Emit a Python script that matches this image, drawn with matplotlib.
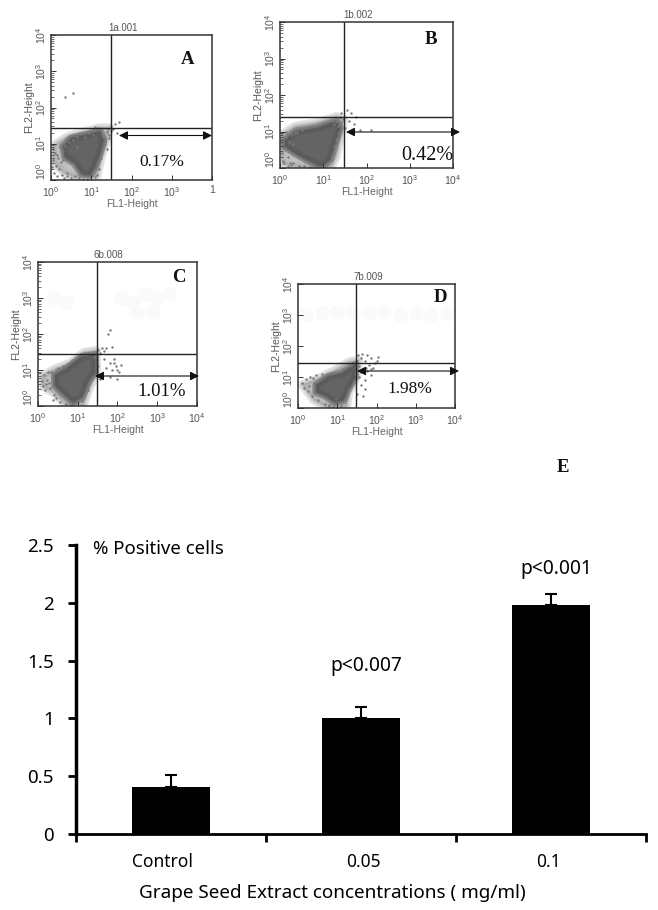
#flow cytometry panels A-D + bar chart E
import numpy as np
import matplotlib
matplotlib.use('Agg')
import matplotlib.pyplot as plt
from matplotlib.patches import FancyArrowPatch
from matplotlib.transforms import ScaledTranslation

W = 658
H = 910

#**************************data (log10 decades)***********
#dense part of each cloud = outline, lighter part around it = halo
a_core_x = [.31,.51,.88,1.21,1.30,1.21,1.09,.97,.76,.6,.35]
a_core_y = [.92,1.15,1.24,1.33,1.10,.73,.37,.14,.18,.46,.64]
a_halo_x = [.05,.4,.85,1.2,1.45,1.4,1.25,1.15,.6,.3,.05]
a_halo_y = [.95,1.2,1.35,1.45,1.45,1.1,.6,.1,.05,.2,.5]
a_dot_x = [.05,.08,.1,.12,.15,.18,.2,.22,.25,.28,.03,.06,.14,.3,.32,.36,.4,.45,.5,.55,.6,.65,.7,.8,.9,1.0,1.1,1.2,1.25,1.3,1.35,1.38,1.42,1.45,1.48,1.5,1.55,1.6,1.65,1.7,1.3,1.35,1.4,1.45,.25,.3,.4,.55,1.15,1.05,.95,.35,1.1,.65,.85]
a_dot_y = [.55,.2,.75,.4,.1,.62,.3,.9,.5,.15,.35,.85,.68,.8,.05,.95,.12,1.05,.06,1.1,.1,1.18,.05,.03,.02,.1,.08,.3,.6,1.22,1.1,1.32,1.4,1.25,1.5,1.35,1.42,1.55,1.3,1.6,.9,1.0,.85,1.15,1.0,.55,.2,2.4,.15,1.25,1.3,2.3,1.45,.9,1.2]

b_core_x = [.12,.38,.85,1.31,1.38,1.27,1.15,.96,.62,.35,.12]
b_core_y = [.77,1.0,1.09,1.27,1.09,.68,.23,.05,.23,.41,.59]
b_halo_x = [.0,.35,.85,1.3,1.48,1.42,1.3,1.2,.5,.05]
b_halo_y = [.9,1.15,1.25,1.42,1.35,.9,.3,.02,.02,.1]
b_dot_x = [.04,.08,.1,.12,.15,.18,.2,.05,.25,.28,.3,.35,.4,.45,.5,.55,.6,.7,.8,.9,1.0,1.1,1.2,1.25,1.3,1.33,1.38,1.4,1.42,1.45,1.5,1.55,1.6,1.65,1.7,1.75,1.85,2.1,1.3,1.25,1.35,1.2,.15,.22,.3,.08,.18]
b_dot_y = [.4,.7,.15,.55,.85,.3,.72,.95,.08,.9,.15,.95,1.0,.05,1.05,.06,1.1,.04,.03,.02,.05,.1,.3,.6,1.3,1.15,1.4,1.25,1.5,1.35,1.1,1.6,1.3,1.5,1.2,1.4,1.05,1.05,.8,1.2,.95,1.28,.98,.15,.65,.2,.05]

c_core_x = [.43,.73,1.1,1.43,1.43,1.27,1.1,.89,.64,.43]
c_core_y = [.85,1.04,1.36,1.41,.94,.71,.25,.11,.34,.57]
c_halo_x = [.1,.45,.8,1.15,1.48,1.48,1.3,1.15,.7,.4,.1]
c_halo_y = [.85,1.05,1.2,1.5,1.55,.9,.5,.02,.03,.35,.55]
c_dot_x = [.1,.15,.2,.25,.3,.35,.4,.45,.12,.18,.22,.28,.32,.38,.45,.5,.55,.62,.7,.8,.88,.98,1.1,1.25,1.4,1.42,1.45,1.5,1.55,1.6,1.65,1.7,1.75,1.8,1.85,1.9,1.95,2.0,2.05,2.1,1.6,1.7,1.8,1.5,1.55,1.65,1.8,2.0,1.85,1.9]
c_dot_y = [.7,.85,.6,.95,.5,.8,.3,1.0,.55,.45,.72,.65,.95,.18,.22,1.05,.1,1.12,.05,.03,.02,.1,.15,.45,1.35,1.5,1.42,1.55,1.48,1.6,1.52,1.62,2.0,2.1,1.65,1.3,1.1,1.0,.95,1.15,.9,1.05,1.2,1.1,.75,1.3,.8,.75,1.0,1.2]

d_core_x = [.47,.77,1.11,1.45,1.45,1.28,1.15,.94,.68,.47]
d_core_y = [.73,1.0,1.11,1.38,1.0,.62,.25,.19,.41,.52]
d_halo_x = [.1,.5,.9,1.3,1.55,1.5,1.3,1.25,.7,.4]
d_halo_y = [.75,.95,1.2,1.5,1.55,1.0,.5,.03,.03,.25]
d_dot_x = [.1,.15,.2,.25,.3,.35,.4,.45,.28,.38,.5,.6,.7,.8,.9,1.0,1.1,1.2,1.3,.78,.88,.98,1.45,1.5,1.55,1.6,1.65,1.7,1.75,1.8,1.85,1.9,1.95,2.0,2.05,1.55,1.6,1.7,1.75,1.85,1.5,1.6,1.7,1.85,1.52,1.62,1.72,1.65]
d_dot_y = [.8,.65,.95,.55,1.0,.4,.82,1.05,.72,.98,.25,1.1,.12,.05,.03,.02,.08,.25,.6,.1,.15,.28,1.1,1.5,1.35,1.6,1.25,1.5,1.7,1.4,1.6,1.3,1.45,1.5,1.65,1.0,1.15,.9,1.2,1.05,.45,.75,.6,1.25,1.7,1.75,1.3,.4]

#faint print-through smudges seen behind C and D
c_smudge_x = [.4,.7,2.1,2.4,2.7,3.0,3.3,2.5,2.9]
c_smudge_y = [3.0,2.9,3.0,2.9,3.1,3.0,3.1,2.6,2.6]
d_smudge_x = [.2,.6,1.0,1.4,1.8,2.2,2.6,3.0,3.4,3.8]
d_smudge_y = [3.0,3.05,3.1,3.1,3.05,3.1,3.0,3.05,3.0,3.05]

gate_x = [1.48,1.48,1.48,1.48]
gate_y = [1.43,1.40,1.44,1.45]
decades = [0,1,2,3,4]

categories = ['Control','0.05','0.1']
bar_values = [0.41,1.0,1.98]
bar_errors = [0.1,0.1,0.1]
p_labels = ['','p<0.007','p<0.001']
p_heights = [0,1.45,2.29]
y_ticks = [0,0.5,1,1.5,2,2.5]
y_labels = ['0','0.5','1','1.5','2','2.5']

#**************************helpers*****************************************
fig = plt.figure(figsize=(W/100,H/100),dpi=100)

def fx(x):
    return x/W
def fy(y):
    return 1-y/H

def add_box(left,top,right,bottom):
    return fig.add_axes([fx(left),fy(bottom),(right-left)/W,(bottom-top)/H])

def ftext(x,y,s,**kw):
    fig.text(fx(x),fy(y),s,ha='center',va='center',**kw)

def panel(box,core_x,core_y,halo_x,halo_y,dot_x,dot_y,gx,gy,name,name_x,letter,letter_pos,pct,pct_pos,pct_size,arrow,xlast=None,smudge=None):
    ax = add_box(*box)
    if smudge is not None:
        ax.scatter(10**np.array(smudge[0]),10**np.array(smudge[1]),s=110,color='#fafafa',linewidths=0)
    #stacked strokes so the cloud edges fade out
    hx = 10**np.array(halo_x)
    hy = 10**np.array(halo_y)
    cx = 10**np.array(core_x)
    cy = 10**np.array(core_y)
    for lw in [6,3,0.5]:
        ax.fill(hx,hy,color='#a0a0a0',lw=lw,alpha=0.3,joinstyle='round')
    for lw in [6,3,0.5]:
        ax.fill(cx,cy,color='#585858',lw=lw,alpha=0.5,joinstyle='round')
    ax.scatter(10**np.array(dot_x),10**np.array(dot_y),s=3,color='#7a7a7a',linewidths=0)
    ax.axvline(10**gx,color='#222222',lw=1)
    ax.axhline(10**gy,color='#222222',lw=1)
    ax.set_xscale('log')
    ax.set_yscale('log')
    ax.set_xlim(1,10**4)
    ax.set_ylim(1,10**4)
    ticks = [10**d for d in decades]
    tlabels = ['$\\mathregular{10^{%d}}$' % d for d in decades]
    ax.set_xticks(ticks)
    ax.set_yticks(ticks)
    ylabs = ax.set_yticklabels(tlabels,rotation=90,va='center',color='#555555',fontsize=7.5)
    ylabs[0].set_va('bottom')
    if xlast is not None:
        tlabels = tlabels[:-1] + [xlast]
    ax.set_xticklabels(tlabels,color='#555555',fontsize=7.5)
    ax.tick_params(which='major',direction='in',length=3.5,width=0.7,color='#333333')
    ax.tick_params(axis='x',which='major',pad=3.5)
    ax.tick_params(axis='y',which='major',pad=2)
    ax.tick_params(which='minor',direction='in',length=2,width=0.5,color='#333333')
    for s in ax.spines.values():
        s.set_linewidth(1.1)
        s.set_color('#333333')
    ax.set_xlabel('FL1-Height',color='#666666',fontsize=7.5,labelpad=0)
    ax.set_ylabel('FL2-Height',color='#555555',fontsize=7.5,labelpad=0)
    ftext(name_x,box[1]-7,name,color='#555555',fontsize=7)
    ftext(letter_pos[0],letter_pos[1],letter,family='Liberation Serif',weight='bold',fontsize=13.5,color='#111111')
    ftext(pct_pos[0],pct_pos[1],pct,family='Liberation Serif',fontsize=pct_size,color='#111111')
    fig.add_artist(FancyArrowPatch((fx(arrow[0]),fy(arrow[2])),(fx(arrow[1]),fy(arrow[2])),
                   transform=fig.transFigure,arrowstyle='<|-|>',mutation_scale=13,
                   lw=0.8,color='#111111',shrinkA=0,shrinkB=0))

plt.rcParams['font.family'] = ['Liberation Sans','DejaVu Sans']
plt.rcParams['mathtext.fontset'] = 'custom'
plt.rcParams['mathtext.rm'] = 'Liberation Sans'

#**************************panels A-D*************************************
panel((51,35,212,180),a_core_x,a_core_y,a_halo_x,a_halo_y,a_dot_x,a_dot_y,gate_x[0],gate_y[0],'1a.001',123,'A',(188,60),'0.17%',(162,162),12.5,(119,212,135.5),xlast='1')
panel((280,22,453,168),b_core_x,b_core_y,b_halo_x,b_halo_y,b_dot_x,b_dot_y,gate_x[1],gate_y[1],'1b.002',358,'B',(431,39),'0.42%',(427,155),14.5,(346,460,132))
panel((38,262,197,406),c_core_x,c_core_y,c_halo_x,c_halo_y,c_dot_x,c_dot_y,gate_x[2],gate_y[2],'6b.008',108,'C',(179,277),'1.01%',(162,391),13.5,(95,199,376),smudge=(c_smudge_x,c_smudge_y))
panel((298,284,455,408),d_core_x,d_core_y,d_halo_x,d_halo_y,d_dot_x,d_dot_y,gate_x[3],gate_y[3],'7b.009',368,'D',(440,297),'1.98%',(410,389),12.5,(357,459,371),smudge=(d_smudge_x,d_smudge_y))

ftext(563,468,'E',family='Liberation Serif',weight='bold',fontsize=13.5,color='#111111')

#**************************bar chart E*************************************
ax = add_box(76,545,646,834)
x = np.arange(len(categories))
ax.bar(x,bar_values,width=0.41,color='black',
       yerr=[[0,0,0],bar_errors],ecolor='black',error_kw=dict(capsize=4.5,capthick=1.5,elinewidth=1.5))
ax.set_xlim(-0.5,2.5)
ax.set_ylim(0,2.5)
ax.set_xticks([-0.5,0.5,1.5,2.5])
ax.set_xticklabels(['','','',''])
ax.set_xticks(x,minor=True)
xlabs = ax.set_xticklabels(categories,minor=True,family='Noto Sans',fontsize=12.5)
ax.tick_params(axis='x',which='minor',length=0,pad=14)
ax.tick_params(axis='x',which='major',direction='out',length=5.5,width=2)
#tick labels are not centred under the bars in the original
for lab,off in zip(xlabs,[-9,2,-3]):
    lab.set_transform(lab.get_transform()+ScaledTranslation(off/100,0,fig.dpi_scale_trans))
ax.set_yticks(y_ticks)
ax.set_yticklabels(y_labels,family='Noto Sans',fontsize=13.5)
ax.tick_params(axis='y',direction='out',length=6,width=2,pad=10)
ax.spines['top'].set_visible(False)
ax.spines['right'].set_visible(False)
ax.spines['left'].set_linewidth(2.5)
ax.spines['bottom'].set_linewidth(2)
ftext(332,893,'Grape Seed Extract concentrations ( mg/ml)',family='Noto Sans',fontsize=13.6)
ftext(158,549,'% Positive cells',family='Noto Sans',fontsize=13.4)
for i in range(len(categories)):
    if p_labels[i] != '':
        ax.text(x[i]+0.03,p_heights[i],p_labels[i],family='Noto Sans',fontsize=13.8,ha='center',va='center')

plt.savefig('out.png',dpi=100)
